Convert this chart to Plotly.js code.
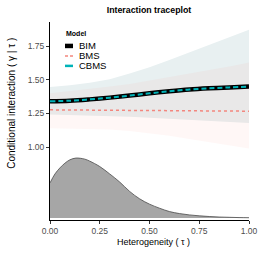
<!DOCTYPE html>
<html><head><meta charset="utf-8">
<script src="https://cdn.plot.ly/plotly-3.0.1.min.js"></script>
<style>body{margin:0;padding:0;background:#fff}#plot{width:262px;height:262px}</style>
</head><body><div id="plot"></div>
<script>
// ---- data ----
const tauGrid = [0, 0.1, 0.2, 0.3, 0.4, 0.5, 0.6, 0.7, 0.8, 0.9, 1.0];
const bimLine  = [1.341, 1.345, 1.355, 1.368, 1.383, 1.400, 1.415, 1.428, 1.437, 1.444, 1.450];
const cbmsLine = [1.341, 1.345, 1.355, 1.368, 1.383, 1.400, 1.415, 1.428, 1.437, 1.444, 1.450];
const bmsLine  = [1.277, 1.276, 1.275, 1.274, 1.273, 1.272, 1.271, 1.270, 1.269, 1.268, 1.267];
const cbmsUpper = [1.448, 1.460, 1.478, 1.505, 1.548, 1.594, 1.648, 1.705, 1.762, 1.818, 1.874];
const cbmsLower = [1.243, 1.240, 1.236, 1.232, 1.226, 1.218, 1.210, 1.203, 1.196, 1.188, 1.180];
const bmsUpper  = [1.400, 1.415, 1.430, 1.450, 1.470, 1.495, 1.520, 1.545, 1.575, 1.600, 1.630];
const bmsLower  = [1.140, 1.138, 1.135, 1.130, 1.120, 1.105, 1.085, 1.060, 1.035, 1.010, 0.990];
const densTau = [0, 0.025, 0.05, 0.075, 0.1, 0.13, 0.175, 0.2, 0.25, 0.3, 0.35, 0.4, 0.45, 0.5, 0.55, 0.6, 0.65, 0.7, 0.75, 0.8, 0.85, 0.9, 0.95, 1.0];
const densVal = [0.733, 0.800, 0.845, 0.880, 0.905, 0.918, 0.910, 0.895, 0.855, 0.800, 0.740, 0.670, 0.615, 0.575, 0.545, 0.520, 0.505, 0.495, 0.488, 0.483, 0.479, 0.477, 0.475, 0.474];
const densBase = 0.472;
const xTicks = [0, 0.25, 0.5, 0.75, 1.0];
const xTickText = ["0.00", "0.25", "0.50", "0.75", "1.00"];
const yTicks = [1.00, 1.25, 1.50, 1.75];
const yTickText = ["1.00", "1.25", "1.50", "1.75"];
const modelNames = ["BIM", "BMS", "CBMS"];

const FONT = "Liberation Sans, Arial, sans-serif";
const cols = {BIM: "#000000", BMS: "#F3867E", CBMS: "#00B3B8"};

const traces = [
  {x: tauGrid, y: cbmsLower, mode: "lines", line: {width: 0}, hoverinfo: "skip", showlegend: false},
  {x: tauGrid, y: cbmsUpper, mode: "lines", line: {width: 0}, fill: "tonexty", fillcolor: "#e8f0f1", hoverinfo: "skip", showlegend: false},
  {x: tauGrid, y: bmsLower, mode: "lines", line: {width: 0}, hoverinfo: "skip", showlegend: false},
  {x: tauGrid, y: bmsUpper, mode: "lines", line: {width: 0}, fill: "tonexty", fillcolor: "rgba(248,118,109,0.06)", hoverinfo: "skip", showlegend: false},
  {x: densTau, y: densTau.map(() => densBase), mode: "lines", line: {width: 0}, hoverinfo: "skip", showlegend: false},
  {x: densTau, y: densVal, mode: "lines", line: {width: 0.8, color: "#4a4a4a", shape: "spline"}, fill: "tonexty", fillcolor: "#a6a6a6", showlegend: false},
  {x: tauGrid, y: bmsLine, mode: "lines", line: {width: 1.5, color: cols.BMS, dash: "3px,3px"}, showlegend: false},
  {x: tauGrid, y: bimLine, mode: "lines", line: {width: 4.5, color: cols.BIM, shape: "spline"}, showlegend: false},
  {x: tauGrid, y: cbmsLine, mode: "lines", line: {width: 2, color: cols.CBMS, dash: "5px,3px", shape: "spline"}, showlegend: false}
];

// manual legend (paper coords)
const px2x = p => (p - 50) / 199;
const py2y = p => (220.5 - p) / 198.5;
const legRows = [46, 56, 66];
const shapes = [];
const annotations = [];
annotations.push({xref: "paper", yref: "paper", x: px2x(64), y: py2y(34), xanchor: "left", yanchor: "middle", text: "<b>Model</b>", showarrow: false, font: {family: FONT, size: 7, color: "#000"}});
modelNames.forEach((m, i) => {
  const y = py2y(legRows[i]);
  if (m === "BIM") {
    shapes.push({type: "line", xref: "paper", yref: "paper", x0: px2x(65), x1: px2x(73), y0: y, y1: y, line: {color: cols.BIM, width: 4.5}});
  } else if (m === "BMS") {
    shapes.push({type: "line", xref: "paper", yref: "paper", x0: px2x(65), x1: px2x(73), y0: y, y1: y, line: {color: cols.BMS, width: 1.5, dash: "3px,2px"}});
  } else {
    shapes.push({type: "line", xref: "paper", yref: "paper", x0: px2x(65), x1: px2x(73), y0: y, y1: y, line: {color: cols.CBMS, width: 2.5}});
  }
  annotations.push({xref: "paper", yref: "paper", x: px2x(77), y: y, xanchor: "left", yanchor: "middle", text: m, showarrow: false, font: {family: FONT, size: 9.5, color: "#000"}});
});
// axis titles as annotations
annotations.push({xref: "paper", yref: "paper", x: px2x(153), y: py2y(243), xanchor: "center", yanchor: "middle", text: "Heterogeneity ( τ )", showarrow: false, font: {family: FONT, size: 9, color: "#000"}});
annotations.push({xref: "paper", yref: "paper", x: px2x(12), y: py2y(104), xanchor: "center", yanchor: "middle", textangle: -90, text: "Conditional interaction ( γ | τ )", showarrow: false, font: {family: FONT, size: 10, color: "#000"}});

const layout = {
  width: 262, height: 262,
  margin: {l: 50, r: 13, t: 22, b: 41.5, pad: 0},
  paper_bgcolor: "#fff", plot_bgcolor: "#fff",
  title: {text: "<b>Interaction traceplot</b>", x: 149 / 262, xanchor: "center", y: 1 - 10 / 262, yanchor: "middle", font: {family: FONT, size: 8.8, color: "#000"}},
  xaxis: {range: [0, 1], tickvals: xTicks, ticktext: xTickText, showgrid: false, zeroline: false,
          showline: true, linecolor: "#000", linewidth: 1, ticks: "outside", ticklen: 3, tickcolor: "#333", tickwidth: 1,
          tickfont: {family: FONT, size: 8.5, color: "#4d4d4d"}},
  yaxis: {range: [0.457, 1.931], tickvals: yTicks, ticktext: yTickText, showgrid: false, zeroline: false,
          showline: true, linecolor: "#000", linewidth: 1, ticks: "outside", ticklen: 3, tickcolor: "#333", tickwidth: 1,
          tickfont: {family: FONT, size: 8.5, color: "#4d4d4d"}},
  showlegend: false,
  shapes: shapes,
  annotations: annotations
};
Plotly.newPlot("plot", traces, layout, {staticPlot: true, displayModeBar: false});
</script></body></html>
